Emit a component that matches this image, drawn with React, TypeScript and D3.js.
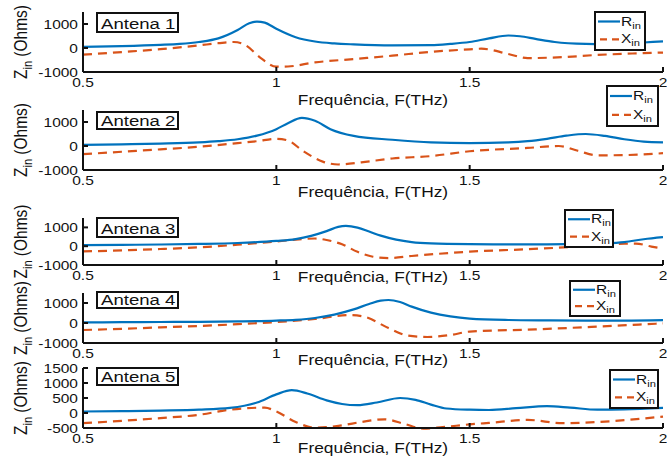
import * as d3 from 'd3';
import React from 'react';

// frequency (THz), impedance (Ohms)
const rin1 = [[0.5,50],[0.6,80],[0.7,130],[0.75,170],[0.8,250],[0.85,400],[0.9,750],[0.93,1030],[0.95,1100],[0.97,1060],[1.0,800],[1.05,450],[1.1,270],[1.15,190],[1.2,150],[1.3,110],[1.4,120],[1.45,170],[1.5,250],[1.55,400],[1.6,520],[1.63,490],[1.67,380],[1.72,250],[1.8,170],[1.85,160],[1.9,180],[1.95,230],[2.0,280]];
const xin1 = [[0.5,-280],[0.6,-170],[0.7,-50],[0.8,110],[0.85,200],[0.89,250],[0.92,120],[0.96,-420],[1.0,-780],[1.03,-770],[1.1,-600],[1.2,-460],[1.3,-320],[1.4,-160],[1.5,-55],[1.53,-30],[1.6,-250],[1.65,-420],[1.74,-380],[1.83,-290],[1.92,-230],[2.0,-190]];

const rin2 = [[0.5,50],[0.6,70],[0.7,100],[0.8,150],[0.85,200],[0.9,280],[0.95,430],[1.0,700],[1.03,950],[1.066,1170],[1.1,1050],[1.14,700],[1.2,420],[1.3,260],[1.4,150],[1.5,120],[1.6,150],[1.65,200],[1.7,300],[1.75,430],[1.8,500],[1.85,420],[1.9,280],[1.95,180],[2.0,150]];
const xin2 = [[0.5,-340],[0.6,-240],[0.7,-140],[0.8,-30],[0.9,120],[0.95,200],[1.0,300],[1.03,230],[1.07,-220],[1.12,-650],[1.16,-770],[1.22,-680],[1.3,-520],[1.4,-420],[1.5,-220],[1.65,-80],[1.73,0],[1.78,-200],[1.83,-390],[1.9,-380],[2.0,-300]];

const rin3 = [[0.5,60],[0.6,70],[0.7,90],[0.8,120],[0.9,170],[1.0,280],[1.05,380],[1.09,550],[1.13,800],[1.16,1030],[1.18,1080],[1.21,990],[1.24,780],[1.27,560],[1.31,350],[1.35,220],[1.4,150],[1.5,110],[1.6,100],[1.7,100],[1.8,120],[1.85,150],[1.9,220],[1.95,370],[2.0,480]];
const xin3 = [[0.5,-280],[0.6,-220],[0.7,-150],[0.8,-60],[0.9,80],[1.0,250],[1.05,350],[1.1,410],[1.13,330],[1.17,100],[1.21,-300],[1.25,-560],[1.29,-630],[1.35,-520],[1.5,-290],[1.65,-160],[1.8,0],[1.9,130],[1.93,140],[1.97,-20],[2.0,-120]];

const rin4 = [[0.5,30],[0.6,40],[0.7,50],[0.8,60],[0.9,80],[1.0,120],[1.05,160],[1.1,250],[1.15,420],[1.2,680],[1.24,950],[1.27,1120],[1.29,1150],[1.32,1050],[1.35,820],[1.4,520],[1.45,330],[1.5,220],[1.6,150],[1.7,130],[1.8,120],[1.9,120],[2.0,140]];
const xin4 = [[0.5,-350],[0.6,-290],[0.7,-220],[0.8,-150],[0.9,-60],[1.0,50],[1.1,200],[1.19,400],[1.23,300],[1.29,-250],[1.34,-630],[1.39,-700],[1.45,-600],[1.5,-430],[1.67,-320],[1.83,-180],[2.0,-20]];

const rin5 = [[0.5,50],[0.6,60],[0.7,80],[0.8,110],[0.88,170],[0.95,350],[1.0,620],[1.04,760],[1.08,650],[1.13,420],[1.17,300],[1.21,260],[1.26,350],[1.32,500],[1.36,440],[1.4,280],[1.44,150],[1.5,110],[1.55,100],[1.62,160],[1.7,230],[1.76,180],[1.83,110],[1.9,120],[2.0,170]];
const xin5 = [[0.5,-340],[0.6,-260],[0.7,-170],[0.8,-60],[0.88,110],[0.97,180],[1.0,50],[1.05,-300],[1.1,-490],[1.17,-410],[1.22,-300],[1.28,-210],[1.33,-360],[1.38,-520],[1.43,-470],[1.5,-380],[1.55,-330],[1.65,-230],[1.74,-340],[1.83,-300],[2.0,-120]];

const xTicks = [0.5, 1, 1.5, 2];
const yTicksA = [-1000, 0, 1000];
const yTicksB = [-500, 0, 500, 1000, 1500];
const names = ['Antena 1', 'Antena 2', 'Antena 3', 'Antena 4', 'Antena 5'];

const panels = [
  { name: names[0], r: rin1, x: xin1, dom: [-1000, 1500], ticks: yTicksA, top: 12, bottom: 72, xlab: 33, tag: [97, 13, 19], leg: [595, 12, 50, 38] },
  { name: names[1], r: rin2, x: xin2, dom: [-1000, 1500], ticks: yTicksA, top: 110, bottom: 170, xlab: 27, tag: [97, 112, 17], leg: [607, 86, 51, 40] },
  { name: names[2], r: rin3, x: xin3, dom: [-1000, 1500], ticks: yTicksA, top: 218, bottom: 265, xlab: 17, tag: [97, 218, 19], leg: [565, 210, 48, 37] },
  { name: names[3], r: rin4, x: xin4, dom: [-1000, 1500], ticks: yTicksA, top: 293, bottom: 343, xlab: 22, tag: [97, 292, 16], leg: [570, 281, 50, 35] },
  { name: names[4], r: rin5, x: xin5, dom: [-500, 1500], ticks: yTicksB, top: 368, bottom: 428, xlab: 25, tag: [97, 368, 17], leg: [610, 370, 48, 38] },
];

const BLUE = '#0072BD';
const ORANGE = '#D95319';
const FONT = '"Liberation Sans", Arial, Helvetica, sans-serif';
const SX = 1.24; // the figure is stretched sideways

const x = d3.scaleLinear().domain([0.5, 2]).range([83, 663]);

const SText = ({ x: tx, y: ty, size, anchor = 'start', rot = 0, children }: any) => (
  <text
    transform={`translate(${tx},${ty}) scale(${SX},1)${rot ? ` rotate(${rot})` : ''}`}
    fontSize={size}
    textAnchor={anchor}
    fontFamily={FONT}
    fill="#111"
  >
    {children}
  </text>
);

const Panel = ({ p }: any) => {
  const y = d3.scaleLinear().domain(p.dom).range([p.bottom, p.top]);
  const line = d3.line<number[]>()
    .x(d => x(d[0]))
    .y(d => y(d[1]))
    .curve(d3.curveMonotoneX);
  const [tx, ty, th] = p.tag;
  const [lx, ly, lw, lh] = p.leg;
  const mid = (p.top + p.bottom) / 2;

  return (
    <g>
      {/* curves */}
      <path d={line(p.x) || ''} fill="none" stroke={ORANGE} strokeWidth={2.2} strokeDasharray="9,6" />
      <path d={line(p.r) || ''} fill="none" stroke={BLUE} strokeWidth={2.2} />

      {/* axes */}
      <line x1={x(0.5)} x2={x(2)} y1={p.bottom} y2={p.bottom} stroke="#111" strokeWidth={2} />
      <line x1={x(0.5)} x2={x(0.5)} y1={p.top} y2={p.bottom} stroke="#111" strokeWidth={2} />
      {xTicks.map(t => (
        <g key={t}>
          <line x1={x(t)} x2={x(t)} y1={p.bottom} y2={p.bottom - 5} stroke="#111" strokeWidth={2} />
          <SText x={x(t)} y={p.bottom + 15} size={12.5} anchor="middle">{String(t)}</SText>
        </g>
      ))}
      {p.ticks.map((t: number) => (
        <g key={t}>
          <line x1={x(0.5)} x2={x(0.5) + 5} y1={y(t)} y2={y(t)} stroke="#111" strokeWidth={2} />
          <SText x={78} y={y(t) + 4.5} size={12.5} anchor="end">{String(t)}</SText>
        </g>
      ))}

      {/* axis titles */}
      <SText x={373} y={p.bottom + p.xlab} size={14} anchor="middle">Frequência, F(THz)</SText>
      <SText x={27} y={mid} size={15.5} anchor="middle" rot={-90}>
        Z<tspan fontSize={11} dy={4}>in</tspan><tspan dy={-4}> (Ohms)</tspan>
      </SText>

      {/* antenna tag */}
      <rect x={tx} y={ty} width={81} height={th} fill="#fff" stroke="#111" strokeWidth={2} />
      <SText x={tx + 4} y={ty + th - 3.5} size={15}>{p.name}</SText>

      {/* legend */}
      <rect x={lx} y={ly} width={lw} height={lh} fill="#fff" stroke="#111" strokeWidth={2} />
      <line x1={lx + 3} x2={lx + 25} y1={ly + lh * 0.25} y2={ly + lh * 0.25} stroke={BLUE} strokeWidth={2.2} />
      <line x1={lx + 3} x2={lx + 25} y1={ly + lh * 0.72} y2={ly + lh * 0.72} stroke={ORANGE} strokeWidth={2.2} strokeDasharray="7,5" strokeDashoffset={-2} />
      <SText x={lx + 26} y={ly + lh * 0.25 + 4} size={12.5}>
        R<tspan fontSize={9} dy={3}>in</tspan>
      </SText>
      <SText x={lx + 26} y={ly + lh * 0.72 + 4} size={12.5}>
        X<tspan fontSize={9} dy={3}>in</tspan>
      </SText>
    </g>
  );
};

export default function App() {
  return (
    <svg
      width={667}
      height={463}
      style={{ position: 'absolute', left: 0, top: 0, background: '#fff' }}
    >
      {panels.map(p => <Panel key={p.name} p={p} />)}
    </svg>
  );
}
